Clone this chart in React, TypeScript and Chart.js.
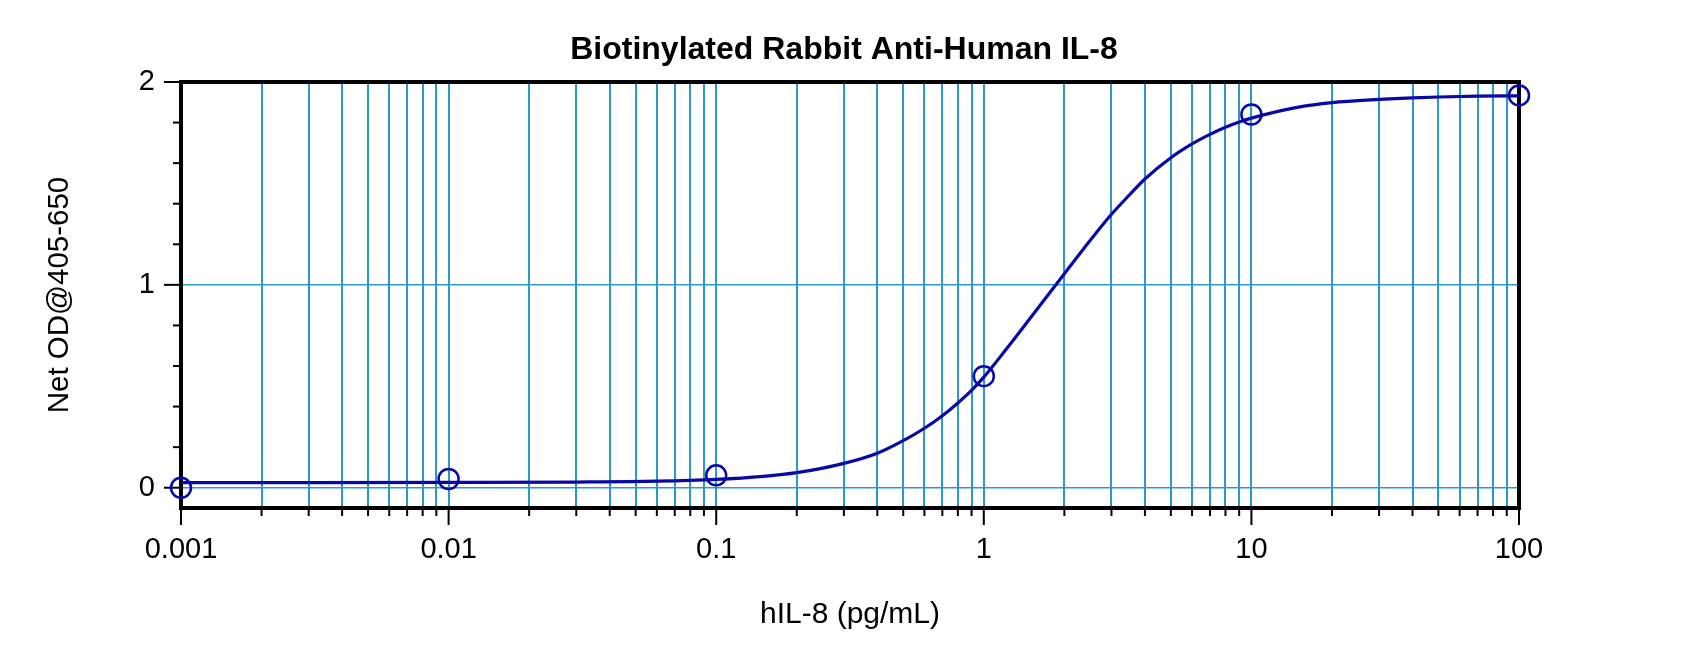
import { useEffect, useRef } from "react"
import { Chart, registerables } from "chart.js"

Chart.register(...registerables)

const FONT = "'Liberation Sans', Arial, sans-serif"
const BLUE = "#0808a8"
const GRID = "#2a9bc9"

// x axis decades and their labels
const decades = [0.001, 0.01, 0.1, 1, 10, 100]
const decadeLabels = ["0.001", "0.01", "0.1", "1", "10", "100"]

// y axis ticks (labels only on whole numbers)
const yTicks = [0, 0.2, 0.4, 0.6, 0.8, 1, 1.2, 1.4, 1.6, 1.8, 2]
const yLabelled = [0, 1, 2]

// measured standards
const stdConc = [0.001, 0.01, 0.1, 1, 10, 100]
const stdOD = [0.0, 0.043, 0.061, 0.55, 1.84, 1.934]

// fitted curve
const fitConc = [
  0.001, 0.003, 0.01, 0.03, 0.06, 0.1, 0.15, 0.2, 0.3, 0.4, 0.5, 0.6, 0.7, 0.8, 0.9, 1, 1.2, 1.5, 2, 2.5, 3, 3.5,
  4, 5, 6, 7, 8, 9, 10, 15, 20, 30, 40, 50, 70, 100,
]
const fitOD = [
  0.025, 0.025, 0.026, 0.028, 0.032, 0.041, 0.056, 0.074, 0.12, 0.17, 0.232, 0.293, 0.355, 0.418, 0.48, 0.545,
  0.675, 0.84, 1.055, 1.22, 1.348, 1.443, 1.522, 1.627, 1.695, 1.742, 1.777, 1.803, 1.822, 1.876, 1.898, 1.914,
  1.922, 1.926, 1.93, 1.932,
]

// every 1..9 step inside each decade, for the gridlines
const xTicks: number[] = []
decades.forEach((d, i) => {
  if (i === decades.length - 1) {
    xTicks.push(d)
    return
  }
  for (let k = 1; k < 10; k++) xTicks.push(+(d * k).toPrecision(3))
})

// frame, tick marks and the main title
const framePlugin = {
  id: "frame",
  beforeDatasetsDraw(chart: any) {
    const { ctx, chartArea: a, scales } = chart
    ctx.save()
    ctx.strokeStyle = "#000"
    ctx.lineWidth = 2
    for (const t of scales.x.ticks) {
      const px = scales.x.getPixelForValue(t.value)
      const len = decades.includes(t.value) ? 17 : 8
      ctx.beginPath()
      ctx.moveTo(px, a.bottom)
      ctx.lineTo(px, a.bottom + len)
      ctx.stroke()
    }
    for (const t of scales.y.ticks) {
      const py = scales.y.getPixelForValue(t.value)
      const len = yLabelled.includes(t.value) ? 17 : 8
      ctx.beginPath()
      ctx.moveTo(a.left, py)
      ctx.lineTo(a.left - len, py)
      ctx.stroke()
    }
    ctx.lineWidth = 4
    ctx.strokeRect(a.left, a.top, a.right - a.left, a.bottom - a.top)
    ctx.restore()
  },
  afterDraw(chart: any) {
    const { ctx } = chart
    ctx.save()
    ctx.fillStyle = "#000"
    ctx.font = `bold 32px ${FONT}`
    ctx.textAlign = "center"
    ctx.textBaseline = "middle"
    ctx.fillText("Biotinylated Rabbit Anti-Human IL-8", 844, 50)
    ctx.restore()
  },
}

export default function App() {
  const chartRef = useRef<HTMLCanvasElement>(null)
  const chartInstance = useRef<Chart | null>(null)

  useEffect(() => {
    if (!chartRef.current) return
    if (chartInstance.current) chartInstance.current.destroy()
    const ctx = chartRef.current.getContext("2d")
    if (!ctx) return

    chartInstance.current = new Chart(ctx, {
      type: "scatter",
      data: {
        datasets: [
          {
            label: "Fit",
            data: fitConc.map((x, i) => ({ x, y: fitOD[i] })),
            showLine: true,
            borderColor: BLUE,
            borderWidth: 3.2,
            pointRadius: 0,
            cubicInterpolationMode: "monotone",
            order: 2,
          },
          {
            label: "Standards",
            data: stdConc.map((x, i) => ({ x, y: stdOD[i] })),
            showLine: false,
            pointStyle: "circle",
            pointRadius: 10,
            pointBorderWidth: 2.5,
            pointBorderColor: BLUE,
            pointBackgroundColor: "rgba(0,0,0,0)",
            clip: false,
            order: 1,
          },
        ],
      },
      options: {
        responsive: true,
        maintainAspectRatio: false,
        animation: false,
        layout: { padding: { top: 82, right: 181, bottom: 0, left: 0 } },
        plugins: {
          legend: { display: false },
          title: { display: false },
          tooltip: { enabled: false },
        },
        scales: {
          x: {
            type: "logarithmic",
            min: 0.001,
            max: 100,
            afterBuildTicks: (scale: any) => {
              scale.ticks = xTicks.map((v) => ({ value: v, major: decades.includes(v) }))
            },
            afterFit: (scale: any) => {
              scale.height = 137
            },
            border: { display: false },
            grid: { color: GRID, lineWidth: 2, drawTicks: false },
            ticks: {
              autoSkip: false,
              maxRotation: 0,
              padding: 25,
              color: "#000",
              font: { family: FONT, size: 29 },
              callback: (value: any) => {
                const i = decades.indexOf(Number(value))
                return i >= 0 ? decadeLabels[i] : ""
              },
            },
            title: {
              display: true,
              text: "hIL-8 (pg/mL)",
              color: "#000",
              font: { family: FONT, size: 30 },
              padding: { top: 0, bottom: 12 },
            },
          },
          y: {
            type: "linear",
            min: -0.1,
            max: 2,
            afterBuildTicks: (scale: any) => {
              scale.ticks = yTicks.map((v) => ({ value: v, major: yLabelled.includes(v) }))
            },
            afterFit: (scale: any) => {
              scale.width = 181
            },
            border: { display: false },
            grid: {
              color: (c: any) => (c.tick && yLabelled.includes(c.tick.value) ? GRID : "rgba(0,0,0,0)"),
              lineWidth: 1.5,
              drawTicks: false,
            },
            ticks: {
              autoSkip: false,
              padding: 26,
              color: "#000",
              font: { family: FONT, size: 29 },
              callback: (value: any) => (yLabelled.includes(Number(value)) ? String(value) : ""),
            },
            title: {
              display: true,
              text: "Net OD@405-650",
              color: "#000",
              font: { family: FONT, size: 29.5 },
              padding: { top: 42, bottom: 0 },
            },
          },
        },
      },
      plugins: [framePlugin],
    })

    return () => {
      if (chartInstance.current) {
        chartInstance.current.destroy()
        chartInstance.current = null
      }
    }
  }, [])

  return (
    <div style={{ position: "fixed", left: 0, top: 0, width: 1700, height: 645, background: "#fff" }}>
      <canvas ref={chartRef}></canvas>
    </div>
  )
}
